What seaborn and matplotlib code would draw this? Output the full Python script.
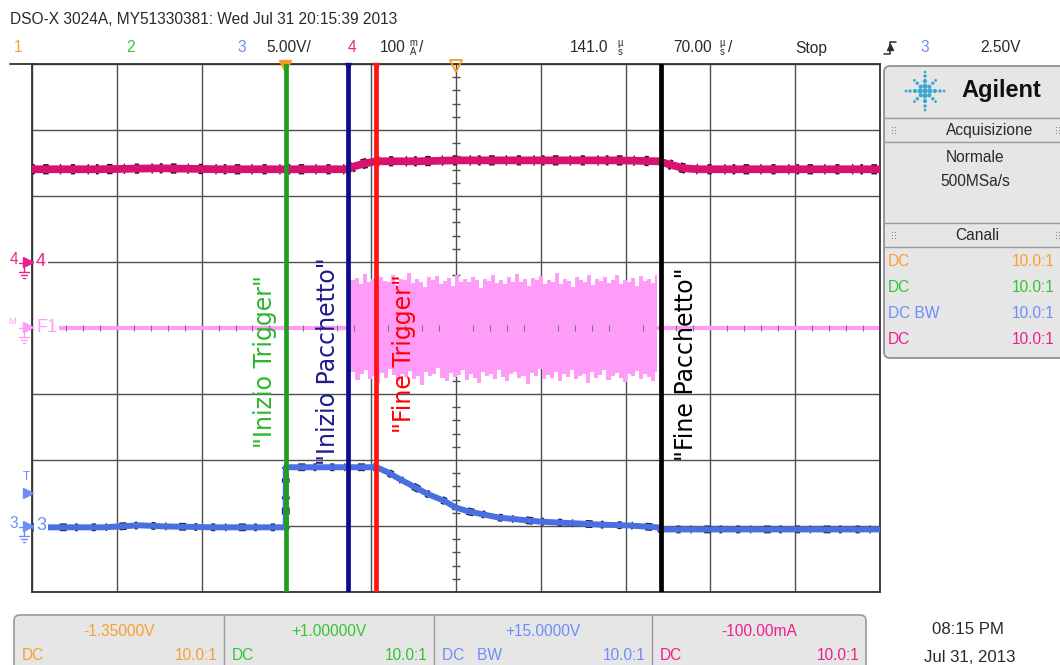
import numpy as np
import pandas as pd
import matplotlib
matplotlib.use("Agg")
import matplotlib.pyplot as plt
import seaborn as sns
from matplotlib import font_manager
from matplotlib.patches import FancyBboxPatch

# ---------------- acquisition settings ----------------
time_per_div = 70.0          # µs / div
time_delay = 141.0           # µs at screen centre
ch3_scale, ch3_offset = 5.0, 15.0       # V / div, V at screen centre
ch4_scale, ch4_offset = 100.0, -100.0   # mA / div, mA at screen centre
trigger_level = 2.5                      # V

# ---------------- channel 4 : supply current (mA) ----------------
ch4_time = [-209, -154, -104, -55, 0, 52, 57, 65, 75, 110,
            141, 176, 226, 275, 308, 317, 329, 341, 424, 491]
ch4_current = [140.5, 140.5, 142, 140.5, 140.5, 140.5, 145, 149, 152.6, 152.6,
               154, 154, 154, 154, 152.6, 148, 142, 140.5, 140.5, 140.5]

# ---------------- channel 3 : trigger line (V) ----------------
ch3_time = [-209, -150, -120, -100, -60, 0.5, 0.5, 40, 75.5,
            85.4, 93.7, 106.1, 118.5, 130.8, 140.7, 151.5, 163.9, 176.3, 192.8,
            209.3, 225.8, 242.3, 258.8, 283.5, 308.3, 310, 400, 491]
ch3_volts = [-0.1, -0.1, 0.05, -0.03, -0.1, -0.1, 4.45, 4.45, 4.45,
             4.04, 3.59, 2.99, 2.38, 1.93, 1.40, 1.10, 0.87, 0.64, 0.49,
             0.34, 0.26, 0.19, 0.11, 0.04, -0.11, -0.26, -0.26, -0.26]

# ---------------- F1 : RF packet envelope (div) ----------------
f1_start, f1_end = 53.0, 307.0
f1_top = [0.80, 0.72, 0.76, 0.66, 0.82, 0.70, 0.74, 0.63, 0.78, 0.71, 0.69, 0.80, 0.65,
          0.75, 0.72, 0.84, 0.68, 0.74, 0.70, 0.62, 0.77, 0.73, 0.79, 0.67, 0.71, 0.76,
          0.64, 0.81, 0.70, 0.74, 0.69, 0.78, 0.72, 0.60, 0.75, 0.71, 0.80, 0.68, 0.73,
          0.66, 0.77, 0.70, 0.82, 0.69, 0.74, 0.63, 0.76, 0.72, 0.79, 0.67, 0.73, 0.70,
          0.84, 0.66, 0.75, 0.71, 0.62, 0.78, 0.72, 0.69, 0.80, 0.65, 0.74, 0.71, 0.77,
          0.68, 0.73, 0.81, 0.66, 0.72, 0.70, 0.76, 0.64, 0.79, 0.71, 0.74, 0.68, 0.80]
f1_bottom = [-0.74, -0.66, -0.79, -0.70, -0.63, -0.77, -0.72, -0.84, -0.68, -0.75, -0.62,
             -0.71, -0.80, -0.69, -0.74, -0.65, -0.78, -0.72, -0.86, -0.67, -0.73, -0.70,
             -0.61, -0.76, -0.81, -0.68, -0.74, -0.71, -0.64, -0.79, -0.70, -0.75, -0.83,
             -0.66, -0.72, -0.69, -0.77, -0.63, -0.74, -0.80, -0.70, -0.67, -0.76, -0.72,
             -0.85, -0.68, -0.73, -0.62, -0.78, -0.71, -0.75, -0.66, -0.81, -0.69, -0.74,
             -0.64, -0.77, -0.72, -0.70, -0.83, -0.67, -0.75, -0.71, -0.63, -0.79, -0.73,
             -0.68, -0.76, -0.82, -0.69, -0.72, -0.65, -0.78, -0.70, -0.74, -0.80, -0.67]

# ---------------- event markers ----------------
marker_labels = ['"Inizio Trigger"', '"Inizio Pacchetto"', '"Fine Trigger"', '"Fine Pacchetto"']
marker_times = [0.5, 52.0, 75.0, 310.0]
marker_colors = ['#1f9f1f', '#0b0b8c', '#ff1414', '#000000']
marker_text_colors = ['#2db52d', '#1c1c8c', '#ff0000', '#000000']

# ---------------- channel panel ----------------
chan_colors = ['#f7a030', '#35c435', '#6d8dfa', '#ee1f8b']
chan_offsets = ['-1.35000V', '+1.00000V', '+15.0000V', '-100.00mA']
chan_coupling = ['DC', 'DC', 'DC   BW', 'DC']
chan_probe = ['10.0:1', '10.0:1', '10.0:1', '10.0:1']

PINK = '#ff9cf8'
CH4_COLOR = '#d6146f'
CH3_COLOR = '#4a6fe0'
GRID = '#4f4f4f'
TXT = '#2a2a2a'

sns.set_theme(style="white")
names = {f.name for f in font_manager.fontManager.ttflist}
narrow = 'Liberation Sans Narrow' in names
ui_family = ['Liberation Sans Narrow' if narrow else 'Liberation Sans', 'DejaVu Sans']
fs = 1.0 if narrow else 0.93
plt.rcParams['font.family'] = ui_family
plt.rcParams['lines.scale_dashes'] = False

fig = plt.figure(figsize=(10.6, 6.65), dpi=100)
fig.patch.set_facecolor('white')

# ---------------- graticule ----------------
W, H = 1060.0, 665.0
ax = fig.add_axes([32 / W, 1 - 592 / H, 848 / W, 528 / H])
ax.set_facecolor('white')
x_lo = time_delay - 5 * time_per_div
x_hi = time_delay + 5 * time_per_div
ax.set_xlim(x_lo, x_hi)
ax.set_ylim(-4, 4)
ax.set_xticks(time_delay + time_per_div * np.arange(-5, 6))
ax.set_yticks(np.arange(-4, 5))
ax.tick_params(length=0, labelbottom=False, labelleft=False)
ax.grid(True, color=GRID, lw=1.0)
ax.set_axisbelow(True)
for sp in ax.spines.values():
    sp.set_color('#333333')
    sp.set_linewidth(1.3)

# minor ticks along the centre axes
minor_y = [v for v in np.arange(-4, 4.01, 0.2) if abs(v - round(v)) > 1e-6]
ax.plot([time_delay] * len(minor_y), minor_y, ls='', marker='_', ms=6, mew=1.0, color=GRID, zorder=1)
minor_x = [time_delay + time_per_div * k / 5 for k in range(-25, 26) if k % 5 != 0]
ax.plot(minor_x, [0] * len(minor_x), ls='', marker='|', ms=5, mew=0.8, color='#777777', zorder=2.5)

# ---------------- F1 packet ----------------
ax.plot([x_lo, x_hi], [0, 0], color=PINK, lw=3.0, zorder=2, solid_capstyle='butt')
t_top = np.linspace(f1_start, f1_end, len(f1_top))
t_bot = np.linspace(f1_start, f1_end, len(f1_bottom))
ax.fill_between(t_top, 0, f1_top, step='mid', color=PINK, lw=0, zorder=2)
ax.fill_between(t_bot, f1_bottom, 0, step='mid', color=PINK, lw=0, zorder=2)

# ---------------- channel 4 ----------------
df4 = pd.DataFrame({'t': ch4_time, 'div': [(v - ch4_offset) / ch4_scale for v in ch4_current]})
ax.plot(df4['t'], df4['div'], color='#3a0a22', lw=7.4,
        dashes=(2, 6, 4, 8, 1, 7, 3, 9, 1, 5), zorder=3, solid_capstyle='butt')
sns.lineplot(data=df4, x='t', y='div', ax=ax, estimator=None, sort=False,
             color=CH4_COLOR, lw=5.6, zorder=3)

# ---------------- channel 3 ----------------
df3 = pd.DataFrame({'t': ch3_time, 'div': [(v - ch3_offset) / ch3_scale for v in ch3_volts]})
ax.plot(df3['t'], df3['div'], color='#101840', lw=5.6,
        dashes=(3, 7, 1, 9, 5, 6, 2, 10), zorder=3)
sns.lineplot(data=df3, x='t', y='div', ax=ax, estimator=None, sort=False,
             color=CH3_COLOR, lw=4.3, zorder=3)
ax.set_xlabel('')
ax.set_ylabel('')

# ---------------- event markers ----------------
for tm, col in zip(marker_times, marker_colors):
    ax.axvline(tm, color=col, lw=3.4, zorder=4)

# trigger point and delay reference on the top edge
ax.plot([0], [3.97], marker='v', ms=9, color='#f79a20', clip_on=False, zorder=3.5)
ax.plot([time_delay], [3.97], marker='v', ms=9, mfc='none', mec='#f79a20', mew=1.3, clip_on=False, zorder=5)
ax.plot([marker_times[1]], [3.97], marker='v', ms=5, color=marker_colors[1], clip_on=False, zorder=5)
ax.plot([marker_times[2]], [3.97], marker='v', ms=5, color=marker_colors[2], clip_on=False, zorder=5)

# ---------------- overlay in screen pixels ----------------
ov = fig.add_axes([0, 0, 1, 1], zorder=5)
ov.set_xlim(0, W)
ov.set_ylim(H, 0)
ov.axis('off')
ov.patch.set_alpha(0)


def txt(x, y, s, size=12, color=TXT, ha='left', va='center', **kw):
    ov.text(x, y, s, fontsize=size * fs, color=color, ha=ha, va=va, **kw)


# rotated event labels
label_px = [(265, 362), (328, 361), (404, 354), (686, 364)]
for (lx, ly), s, col in zip(label_px, marker_labels, marker_text_colors):
    ov.text(lx, ly, s, rotation=90, fontsize=17, family='DejaVu Sans', color=col,
            ha='center', va='center')

# header
ov.plot([10, 34], [64, 64], color='#333333', lw=1.3)
txt(10, 20, 'DSO-X 3024A, MY51330381: Wed Jul 31 20:15:39 2013')
txt(18, 48, '1', color=chan_colors[0], ha='center')
txt(131, 48, '2', color=chan_colors[1], ha='center')
txt(242, 48, '3', color=chan_colors[2], ha='center')
txt(266, 48, '5.00V/')
txt(352, 48, '4', color=chan_colors[3], ha='center')
txt(380, 48, '100')
txt(413, 43, 'm', size=7.5, ha='center')
txt(413, 52, 'A', size=7.5, ha='center')
txt(419, 48, '/')
txt(570, 48, '141.0')
txt(620, 43, 'µ', size=7.5, ha='center')
txt(620, 52, 's', size=7.5, ha='center')
txt(673, 48, '70.00')
txt(722, 43, 'µ', size=7.5, ha='center')
txt(722, 52, 's', size=7.5, ha='center')
txt(728, 48, '/')
txt(795, 48, 'Stop')
# rising-edge trigger symbol
ov.plot([884, 890, 890, 896], [54, 54, 42, 42], color=TXT, lw=1.1)
ov.plot([890], [47], marker='^', ms=5, color=TXT)
txt(925, 48, '3', color=chan_colors[2], ha='center')
txt(980, 48, '2.50V')

# left-hand channel markers
for lab, y, col in [('4', 262, chan_colors[3]), ('3', 526, chan_colors[2])]:
    txt(14, y - 2, lab, size=12, color=col, ha='center')
    ov.plot([28], [y], marker='>', ms=7, color=col)
    ov.plot([19, 24, 24], [y + 1, y + 1, y + 9], color=col, lw=1.0)
    ov.plot([19, 29], [y + 10, y + 10], color=col, lw=1.0)
    ov.plot([21, 27], [y + 13, y + 13], color=col, lw=1.0)
    ov.plot([23, 25], [y + 16, y + 16], color=col, lw=1.0)
txt(12, 322, 'M', size=7, color=PINK, ha='center')
ov.plot([28], [327], marker='>', ms=7, color=PINK)
ov.plot([19, 24, 24], [328, 328, 336], color=PINK, lw=1.0)
ov.plot([19, 29], [337, 337], color=PINK, lw=1.0)
ov.plot([21, 27], [340, 340], color=PINK, lw=1.0)
ov.plot([23, 25], [343, 343], color=PINK, lw=1.0)
txt(26, 477, 'T', size=9, color=chan_colors[2], ha='center')
ov.plot([28], [493], marker='>', ms=7, color=chan_colors[2])

# trace labels inside the graticule
wb = dict(facecolor='white', edgecolor='none', pad=1.5)
txt(36, 262, '4', size=14, color=chan_colors[3], bbox=wb)
txt(36, 327, 'F1', size=14, color=PINK, bbox=wb)
txt(36, 526, '3', size=14, color=chan_colors[2], bbox=wb)

# ---------------- right-hand info panel ----------------
panel = FancyBboxPatch((884, 66), 200, 292, boxstyle='round,pad=0,rounding_size=6',
                       fc='#e6e6e6', ec='#8a8a8a', lw=1.2)
ov.add_patch(panel)
for yy in [118, 142, 223, 247]:
    ov.plot([884, 1060], [yy, yy], color='#9a9a9a', lw=1.0)

# logo: star of dots
cx, cy = 925, 91
dots_x, dots_y, dots_s = [cx], [cy], [16]
for ang in range(0, 360, 45):
    rad = np.deg2rad(ang)
    radii = [5, 10, 15, 19] if ang % 90 == 0 else [6, 11, 15]
    sizes = [12, 9, 6, 4] if ang % 90 == 0 else [9, 6, 4]
    for r, s in zip(radii, sizes):
        dots_x.append(cx + r * np.cos(rad))
        dots_y.append(cy + r * np.sin(rad))
        dots_s.append(s)
ov.scatter(dots_x, dots_y, s=dots_s, color='#36a9cf', lw=0)
ov.text(1001, 90, 'Agilent', fontsize=17, weight='bold', family='Liberation Sans',
        color='#111111', ha='center', va='center')

for gx, gy in [(893, 130), (1057, 130), (893, 235), (1057, 235)]:
    ov.scatter([gx - 1.5, gx + 1.5] * 3, [gy - 3] * 2 + [gy] * 2 + [gy + 3] * 2,
               s=0.8, color='#8a8a8a', lw=0)

txt(990, 130, 'Acquisizione', ha='center')
txt(975, 157, 'Normale', ha='center')
txt(975, 182, '500MSa/s', ha='center')
txt(977, 235, 'Canali', ha='center')
for i, (col, cpl, prb) in enumerate(zip(chan_colors, chan_coupling, chan_probe)):
    y = 262 + 26 * i
    txt(888, y, cpl.replace('   ', ' '), color=col)
    txt(1012, y, prb, color=col)

# ---------------- bottom channel bar ----------------
bar = FancyBboxPatch((14, 615), 852, 80, boxstyle='round,pad=0,rounding_size=6',
                     fc='#e6e6e6', ec='#9a9a9a', lw=1.2)
ov.add_patch(bar)
edges = [14, 224, 434, 652, 866]
for xx in edges[1:-1]:
    ov.plot([xx, xx], [615, 665], color='#9a9a9a', lw=1.0)
for i in range(4):
    lft, rgt = edges[i], edges[i + 1]
    col = chan_colors[i]
    txt((lft + rgt) / 2, 632, chan_offsets[i], color=col, ha='center')
    txt(lft + 8, 656, chan_coupling[i], color=col)
    txt(rgt - 6, 656, chan_probe[i], color=col, ha='right')

txt(968, 629, '08:15 PM', size=13, ha='center')
txt(970, 657, 'Jul 31, 2013', size=13, ha='center')

fig.savefig('out.png', dpi=100, facecolor='white')
